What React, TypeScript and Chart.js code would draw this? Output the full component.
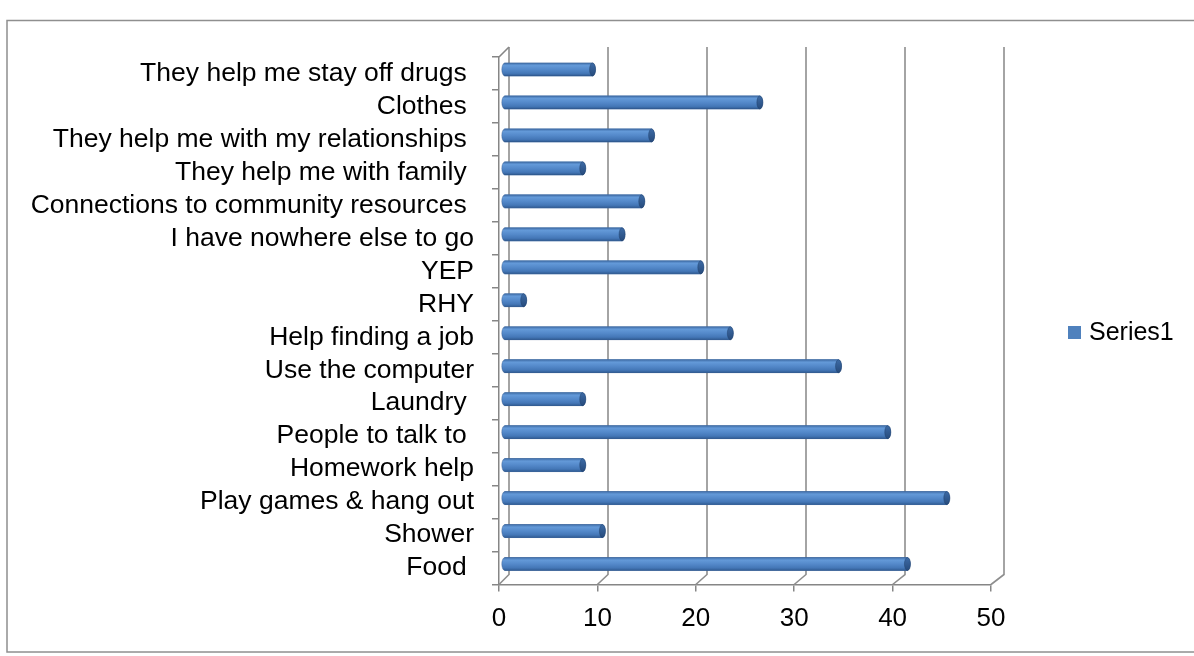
import React, { useEffect, useRef } from 'react';
import { Chart, registerables } from 'chart.js';

Chart.register(...registerables);

const categories = [
  'They help me stay off drugs ',
  'Clothes ',
  'They help me with my relationships ',
  'They help me with family ',
  'Connections to community resources ',
  'I have nowhere else to go',
  'YEP',
  'RHY',
  'Help finding a job',
  'Use the computer',
  'Laundry ',
  'People to talk to ',
  'Homework help',
  'Play games & hang out',
  'Shower',
  'Food ',
];
const series1 = [9, 26, 15, 8, 14, 12, 20, 2, 23, 34, 8, 39, 8, 45, 10, 41];
const seriesName = 'Series1';
const xTickValues = [0, 10, 20, 30, 40, 50];

const FONT = '"Liberation Sans", Arial, Helvetica, sans-serif';
const AXIS_GRAY = '#868686';
const GRID_GRAY = '#8e8e8e';
const BAR_BLUE = '#4F81BD';

const threeD = {
  id: 'threeD',
  beforeDraw(chart: any) {
    const { ctx } = chart;
    ctx.save();
    ctx.fillStyle = '#ffffff';
    ctx.fillRect(0, 0, chart.width, chart.height);
    ctx.strokeStyle = '#8f8f8f';
    ctx.lineWidth = 1.5;
    ctx.strokeRect(7, 20.5, chart.width + 20, 631.5);
    ctx.restore();
  },
  beforeDatasetsDraw(chart: any) {
    const { ctx, chartArea: a } = chart;
    const x = chart.scales.x;
    ctx.save();
    ctx.strokeStyle = GRID_GRAY;
    ctx.lineWidth = 1.6;
    xTickValues.forEach((v) => {
      const xf = x.getPixelForValue(v);
      const dx = 10 + v * 0.06;
      ctx.beginPath();
      ctx.moveTo(xf, a.bottom);
      ctx.lineTo(xf + dx, a.bottom - 10);
      ctx.lineTo(xf + dx, a.top - 10);
      ctx.stroke();
    });
    ctx.strokeStyle = AXIS_GRAY;
    ctx.beginPath();
    ctx.moveTo(a.left, a.top);
    ctx.lineTo(a.left + 10, a.top - 10);
    ctx.stroke();
    ctx.restore();
    ctx.save();
    ctx.translate(5, -4);
  },
  afterDatasetsDraw(chart: any) {
    const { ctx } = chart;
    chart.getSortedVisibleDatasetMetas().forEach((meta: any) => {
      meta.data.forEach((el: any) => {
        const { x, y, base, height } = el.getProps(['x', 'y', 'base', 'height'], true);
        const h = height;
        const top = y - h / 2;
        const bot = y + h / 2;
        const rx = 3;
        const left = Math.min(base, x);
        const right = Math.max(base, x);
        const g = ctx.createLinearGradient(0, top, 0, bot);
        g.addColorStop(0, '#4473ae');
        g.addColorStop(0.2, '#6399d8');
        g.addColorStop(0.5, '#5489ca');
        g.addColorStop(0.8, '#4477b7');
        g.addColorStop(1, '#305b92');
        ctx.save();
        ctx.beginPath();
        ctx.ellipse(left, y, rx, h / 2, 0, Math.PI / 2, Math.PI * 1.5);
        ctx.lineTo(right, top);
        ctx.ellipse(right, y, rx, h / 2, 0, -Math.PI / 2, Math.PI / 2);
        ctx.closePath();
        ctx.fillStyle = g;
        ctx.fill();
        ctx.strokeStyle = 'rgba(40,74,120,0.45)';
        ctx.lineWidth = 0.7;
        ctx.stroke();
        ctx.beginPath();
        ctx.ellipse(right, y, rx, h / 2, 0, 0, Math.PI * 2);
        const cg = ctx.createLinearGradient(0, top, 0, bot);
        cg.addColorStop(0, '#3d6ba6');
        cg.addColorStop(1, '#274b7c');
        ctx.fillStyle = cg;
        ctx.fill();
        ctx.strokeStyle = 'rgba(30,60,100,0.6)';
        ctx.lineWidth = 0.7;
        ctx.stroke();
        ctx.restore();
      });
    });
    ctx.restore();
  },
  afterDraw(chart: any) {
    const { ctx } = chart;
    ctx.save();
    ctx.fillStyle = BAR_BLUE;
    ctx.fillRect(1068, 326, 13, 13);
    ctx.fillStyle = '#000000';
    ctx.font = `25px ${FONT}`;
    ctx.textBaseline = 'middle';
    ctx.textAlign = 'left';
    ctx.fillText(chart.data.datasets[0].label, 1089, 333);
    ctx.restore();
  },
};

export default function App() {
  const canvasRef = useRef<HTMLCanvasElement | null>(null);

  useEffect(() => {
    if (!canvasRef.current) return;
    const chart = new Chart(canvasRef.current, {
      type: 'bar',
      data: {
        labels: categories,
        datasets: [
          {
            label: seriesName,
            data: series1,
            backgroundColor: BAR_BLUE,
            borderWidth: 0,
            barThickness: 13,
          },
        ],
      },
      options: {
        indexAxis: 'y',
        animation: false,
        responsive: true,
        maintainAspectRatio: false,
        layout: { padding: { top: 57, right: 203, bottom: 0, left: 0 } },
        plugins: {
          legend: { display: false },
          title: { display: false },
          tooltip: { enabled: false },
        },
        scales: {
          x: {
            type: 'linear',
            position: 'bottom',
            min: 0,
            max: 50,
            afterFit: (s: any) => {
              s.height = 71.5;
            },
            afterBuildTicks: (s: any) => {
              s.ticks = xTickValues.map((v) => ({ value: v }));
            },
            ticks: {
              color: '#000000',
              font: { family: FONT, size: 26 },
              padding: 12,
              maxRotation: 0,
            },
            grid: {
              drawOnChartArea: false,
              drawTicks: true,
              tickLength: 7,
              color: AXIS_GRAY,
              lineWidth: 1.5,
            },
            border: { display: true, color: AXIS_GRAY, width: 1.5 },
          },
          y: {
            type: 'category',
            afterFit: (s: any) => {
              s.width = 499;
            },
            ticks: {
              color: '#000000',
              font: { family: FONT, size: 26.5 },
              padding: 18,
              autoSkip: false,
            },
            grid: {
              offset: true,
              drawOnChartArea: false,
              drawTicks: true,
              tickLength: 7,
              color: AXIS_GRAY,
              lineWidth: 1.5,
            },
            border: { display: true, color: AXIS_GRAY, width: 1.5 },
          },
        },
      },
      plugins: [threeD],
    });
    return () => chart.destroy();
  }, []);

  return (
    <div
      style={{
        position: 'fixed',
        left: 0,
        top: 0,
        width: 1194,
        height: 656,
        background: '#ffffff',
      }}
    >
      <canvas ref={canvasRef} />
    </div>
  );
}
